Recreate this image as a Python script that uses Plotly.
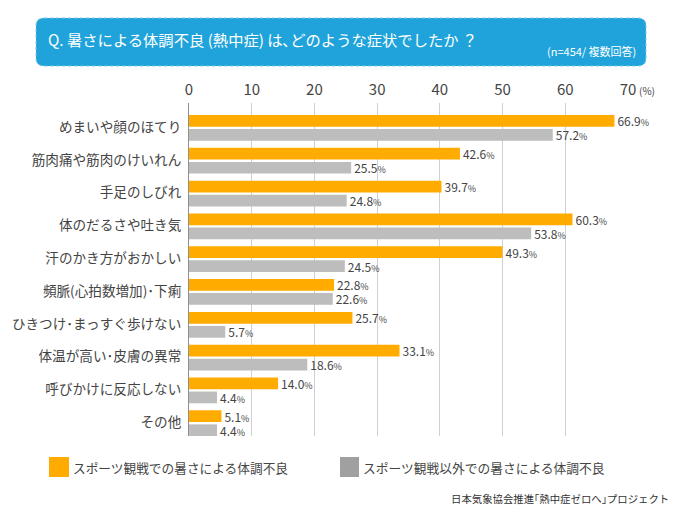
import plotly.graph_objects as go

W = 680
H = 513

symptoms = ['めまいや顔のほてり', '筋肉痛や筋肉のけいれん', '手足のしびれ', '体のだるさや吐き気',
            '汗のかき方がおかしい', '頻脈(心拍数増加)･下痢', 'ひきつけ･まっすぐ歩けない',
            '体温が高い･皮膚の異常', '呼びかけに反応しない', 'その他']
sports = [66.9, 42.6, 39.7, 60.3, 49.3, 22.8, 25.7, 33.1, 14.0, 5.1]
other = [57.2, 25.5, 24.8, 53.8, 24.5, 22.6, 5.7, 18.6, 4.4, 4.4]
ticks = [0, 10, 20, 30, 40, 50, 60, 70]

FONT = 'Noto Sans CJK JP'
TXT = '#444444'
ORANGE = '#ffab00'
GRAY = '#bdbdbd'
BLUE = '#20a3da'

# in the original the bars run a bit longer than its gridlines say (6.36 vs 6.27 px per unit)
XMAX = 69.03
TICK_K = XMAX / 70


def px(x):
    return x / W


def py(y):
    return 1 - y / H


def pct(vals):
    return ['%.1f<span style="font-size:9px">%%</span>' % v for v in vals]


fig = go.Figure()
fig.add_bar(y=symptoms, x=sports, orientation='h', marker=dict(color=ORANGE, line_width=0),
            text=pct(sports), textposition='outside', cliponaxis=False, constraintext='none',
            textfont=dict(size=12, color=TXT, family=FONT), showlegend=False)
fig.add_bar(y=symptoms, x=other, orientation='h', marker=dict(color=GRAY, line_width=0),
            text=pct(other), textposition='outside', cliponaxis=False, constraintext='none',
            textfont=dict(size=12, color=TXT, family=FONT), showlegend=False)

# title box, the rest is placed in paper coords
x0, x1, y0, y1, r = 36, 646, 18, 66, 8
path = (f'M {px(x0 + r)} {py(y0)} L {px(x1 - r)} {py(y0)} Q {px(x1)} {py(y0)} {px(x1)} {py(y0 + r)} '
        f'L {px(x1)} {py(y1 - r)} Q {px(x1)} {py(y1)} {px(x1 - r)} {py(y1)} '
        f'L {px(x0 + r)} {py(y1)} Q {px(x0)} {py(y1)} {px(x0)} {py(y1 - r)} '
        f'L {px(x0)} {py(y0 + r)} Q {px(x0)} {py(y0)} {px(x0 + r)} {py(y0)} Z')
fig.add_shape(type='path', path=path, xref='paper', yref='paper', fillcolor=BLUE,
              line=dict(color='#7cc9ea', width=1, dash='dot'), layer='below')


def label(x, y, text, size, color=TXT, anchor='left'):
    fig.add_annotation(x=px(x), y=py(y), xref='paper', yref='paper', text=text, showarrow=False,
                       xanchor=anchor, yanchor='middle', borderpad=0,
                       font=dict(size=size, color=color, family=FONT))


label(47, 39, 'Q. 暑さによる体調不良 (熱中症) は､どのような症状でしたか ？', 15.3, '#ffffff')
label(637, 51, '(n=454/ 複数回答)', 11, '#ffffff', 'right')
label(638, 90, '(%)', 10)

# legend
fig.add_shape(type='rect', xref='paper', yref='paper', x0=px(49), x1=px(69), y0=py(457), y1=py(477),
              fillcolor=ORANGE, line_width=0)
fig.add_shape(type='rect', xref='paper', yref='paper', x0=px(340), x1=px(359), y0=py(457), y1=py(477),
              fillcolor='#a0a0a0', line_width=0)
label(72, 467, 'スポーツ観戦での暑さによる体調不良', 12.7)
label(362, 467, 'スポーツ観戦以外での暑さによる体調不良', 12.75)
label(670, 498, '日本気象協会推進｢熱中症ゼロへ｣プロジェクト', 10.4, '#333333', 'right')

fig.update_layout(
    width=W, height=H, margin=dict(l=0, r=0, t=0, b=0, autoexpand=False), paper_bgcolor='white',
    plot_bgcolor='white', barmode='group', bargap=0.145, bargroupgap=0.164, font=dict(family=FONT, color=TXT),
    xaxis=dict(domain=[px(189), px(628)], range=[0, XMAX], side='top',
               tickvals=[t * TICK_K for t in ticks], ticktext=[str(t) for t in ticks],
               tickfont=dict(size=15, color=TXT, family=FONT), showgrid=True, gridcolor='#d0d0d0',
               gridwidth=1, zeroline=False, showline=False, ticks='', ticklabelstandoff=4),
    yaxis=dict(domain=[py(436), py(103)], range=[9.39, -0.76], type='category', categoryorder='array',
               categoryarray=symptoms, showgrid=False, zeroline=False, showline=True, linecolor='#909090',
               linewidth=1, ticks='', tickfont=dict(size=13.6, color=TXT, family=FONT),
               ticklabelstandoff=4, ticklabelshift=1),
)

fig.write_html('out.html', config=dict(displayModeBar=False),
               post_script="document.body.style.margin='0';")
